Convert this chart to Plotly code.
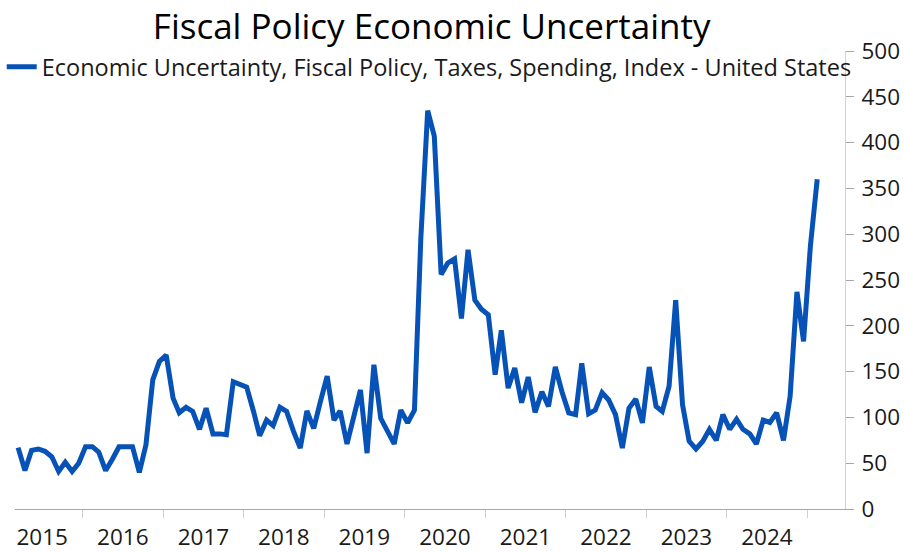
import pandas as pd
import plotly.graph_objects as go

# Monthly index, Mar 2015 .. Feb 2025 (points plotted mid-month)
start_month = "2015-03"
n_months = 120
values = [
    67, 42, 64, 65.5, 63, 57, 41, 51, 41, 50,            # Mar-Dec 2015
    68, 68, 62, 42, 54, 68, 68, 68, 40, 70, 141, 161,     # 2016
    168, 121, 105, 111, 106.5, 87, 110, 82, 82, 81, 139, 136,  # 2017
    133, 106.5, 80, 97, 91, 111, 106.5, 85, 66.5, 107, 88, 117,  # 2018
    145, 97, 107, 71, 103, 130, 61, 157.5, 99, 85, 71, 108,  # 2019
    94, 108, 296, 435, 407, 256, 268.5, 273, 208, 283, 228, 218,  # 2020
    212, 146.6, 195, 132, 154, 116, 144, 105.5, 128, 112, 155, 128,  # 2021
    105, 103, 159, 104, 108, 127, 119, 103, 66.5, 110, 120, 94,  # 2022
    155, 112, 106.5, 134, 228, 114, 74, 65.5, 74, 87, 75, 103,  # 2023
    87, 98, 87, 82, 71, 97, 94.5, 105, 75, 123, 237, 183,  # 2024
    287, 360,  # Jan-Feb 2025
]
dates = pd.period_range(start_month, periods=n_months, freq="M").to_timestamp() + pd.Timedelta(days=14)

series_name = "Economic Uncertainty, Fiscal Policy, Taxes, Spending, Index - United States"
title_text = "Fiscal Policy Economic Uncertainty"
y_ticks = [0, 50, 100, 150, 200, 250, 300, 350, 400, 450, 500]

FONT = "Open Sans"
fig = go.Figure()
fig.add_trace(go.Scatter(
    x=dates, y=values, mode="lines", name=series_name,
    line=dict(color="#0652b6", width=5),
    showlegend=True,
))

fig.update_layout(
    width=905, height=552,
    margin=dict(l=15, r=60, t=51, b=43, autoexpand=False),
    paper_bgcolor="white", plot_bgcolor="white",
    font=dict(family=FONT, color="#1a1a1a"),
    title=dict(text=title_text, x=0.477, xanchor="center", y=0.952, yanchor="middle",
               font=dict(family=FONT, size=35, color="#000000")),
    legend=dict(x=-0.016, xanchor="left", y=0.965, yanchor="middle",
                orientation="h", bgcolor="rgba(0,0,0,0)",
                font=dict(family=FONT, size=23.5, color="#1a1a1a"),
                itemwidth=30),
    showlegend=True,
)
fig.update_xaxes(
    type="date",
    range=["2015-03-01", "2025-06-21"],
    dtick="M12", tick0="2015-01-01", tickformat="%Y",
    ticklabelmode="period", automargin=False,
    showline=True, linecolor="#a6a6a6", linewidth=1,
    ticks="outside", ticklen=8, tickcolor="#d0d0d0",
    showgrid=False, zeroline=False,
    tickfont=dict(family=FONT, size=22.5, color="#1a1a1a"),
)
fig.update_yaxes(
    side="right", range=[0, 500], tickvals=y_ticks, automargin=False,
    showline=True, linecolor="#d0d0d0", linewidth=1,
    ticks="outside", ticklen=8, tickcolor="#a6a6a6",
    ticklabelstandoff=3,
    showgrid=False, zeroline=False,
    tickfont=dict(family=FONT, size=22.5, color="#1a1a1a"),
)
fig.write_html("out.html", config={"displayModeBar": False},
               post_script="document.body.style.margin='0';document.body.style.padding='0';")
